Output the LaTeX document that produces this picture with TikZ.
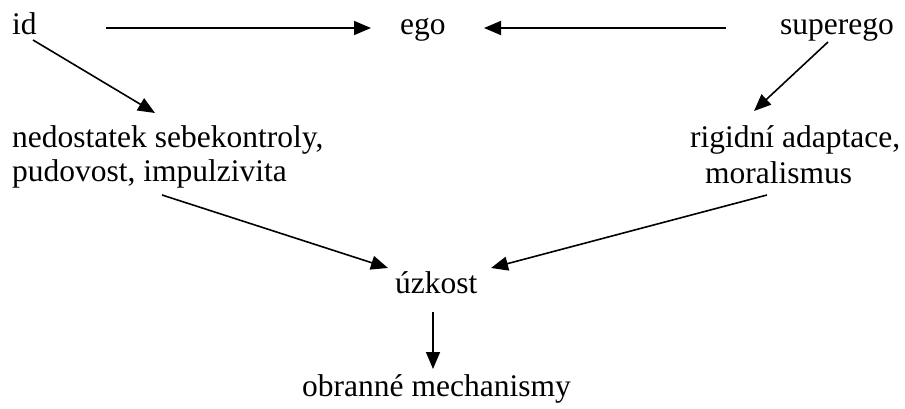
\documentclass[tikz,border=0pt]{standalone}
\usepackage{fontspec}
\setmainfont{Liberation Serif}
\usetikzlibrary{arrows.meta}
\begin{document}
\begin{tikzpicture}[x=1pt,y=-1pt,
  lbl/.style={inner sep=0pt, anchor=base west, font=\fontsize{31.5}{35}\selectfont},
  arr/.style={line width=1.6pt, -{Triangle[length=17pt,width=14pt]}}]
\useasboundingbox (0,0) rectangle (905,409);
\node[lbl] (id) at (12,35) {id};
\node[lbl] (ego) at (400,35) {ego};
\node[lbl] (super) at (780,35) {superego};
\node[lbl] (ned1) at (12,147) {nedostatek sebekontroly,};
\node[lbl] (ned2) at (12,181) {pudovost, impulzivita};
\node[lbl] (rig1) at (690,147) {rigidní adaptace,};
\node[lbl] (rig2) at (705,183) {moralismus};
\node[lbl] (uzk) at (395,293) {úzkost};
\node[lbl] (obr) at (302,396) {obranné mechanismy};
\coordinate (a1) at (106,28); \coordinate (a2) at (371,28);
\coordinate (b1) at (726,28); \coordinate (b2) at (484,28);
\coordinate (c1) at (33,40);  \coordinate (c2) at (155,113);
\coordinate (d1) at (828,42); \coordinate (d2) at (754,111);
\coordinate (e1) at (162,195); \coordinate (e2) at (388,268);
\coordinate (f1) at (767,195); \coordinate (f2) at (491,268);
\coordinate (g1) at (433,312); \coordinate (g2) at (433,369);
\draw[arr] (a1) -- (a2);
\draw[arr] (b1) -- (b2);
\draw[arr] (c1) -- (c2);
\draw[arr] (d1) -- (d2);
\draw[arr] (e1) -- (e2);
\draw[arr] (f1) -- (f2);
\draw[arr] (g1) -- (g2);
\end{tikzpicture}
\end{document}
